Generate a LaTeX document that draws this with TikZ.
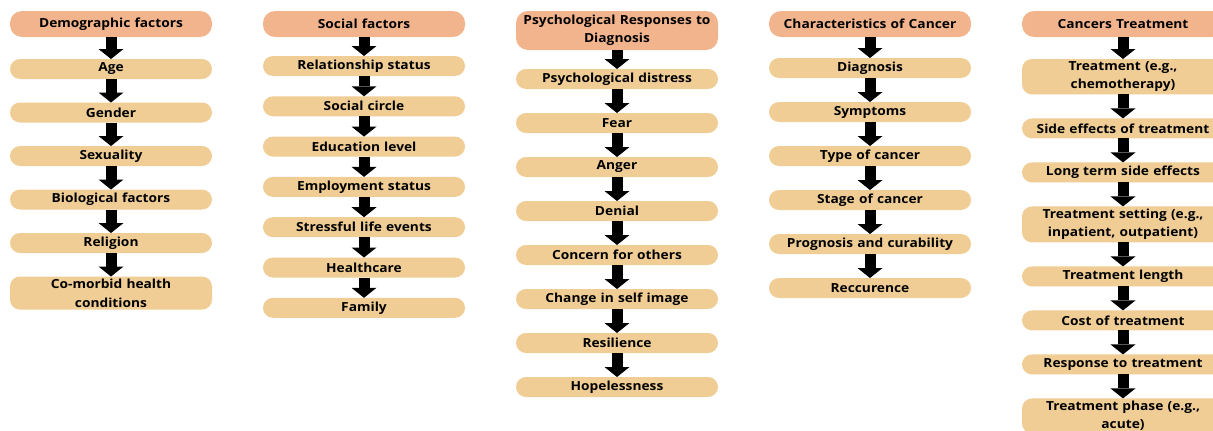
\documentclass[tikz,border=0pt]{standalone}
\usepackage{fontspec}
\setmainfont{Open Sans}[FakeStretch=1.1]
\usepackage{tikz}
\usetikzlibrary{positioning, arrows.meta}

\definecolor{headorange}{HTML}{F2B48C}
\definecolor{itembeige}{HTML}{EFCD95}

\begin{document}
\begin{tikzpicture}[x=1pt, y=-1pt, >={Triangle[width=25pt, length=10pt, line width=0pt]}, node distance=24pt]
    \tikzstyle{head} = [fill=headorange, rounded corners=12pt, outer sep=0pt, text width=196pt, align=center, inner xsep=3pt, inner ysep=4pt, minimum height=26pt, font=\fontsize{12.5}{18.5}\selectfont\bfseries]
    \tikzstyle{item} = [fill=itembeige, rounded corners=10pt, outer sep=0pt, text width=196pt, align=center, inner xsep=3pt, inner ysep=2.5pt, minimum height=20pt, font=\fontsize{12.5}{18.5}\selectfont\bfseries]
    \tikzstyle{flow} = [->, line width=11pt]

    \useasboundingbox (0,0) rectangle (1213,431);

    % demographic
    \begin{scope}[node distance=23.5pt]
        \path[flow]
            node[head, anchor=north] at (111,11) (dem) {Demographic factors}
            node[item, below=22pt of dem] (age) {Age}
            node[item, below=of age] (gender) {Gender}
            node[item, below=of gender] (sexuality) {Sexuality}
            node[item, below=of sexuality] (bio) {Biological factors}
            node[item, below=of bio] (religion) {Religion}
            node[item, below=of religion] (comorbid) {Co-morbid health\\conditions}

            (dem) edge (age)
            (age) edge (gender)
            (gender) edge (sexuality)
            (sexuality) edge (bio)
            (bio) edge (religion)
            (religion) edge (comorbid)
            ;
    \end{scope}

    % social
    \begin{scope}[node distance=20.3pt]
        \path[flow]
            node[head, right=51pt of dem.north east, anchor=north west] (soc) {Social factors}
            node[item, below=19pt of soc] (relation) {Relationship status}
            node[item, below=of relation] (socialcircle) {Social circle}
            node[item, below=of socialcircle] (edu) {Education level}
            node[item, below=of edu] (employ) {Employment status}
            node[item, below=of employ] (stress) {Stressful life events}
            node[item, below=of stress] (health) {Healthcare}
            node[item, below=of health] (family) {Family}

            (soc) edge (relation)
            (relation) edge (socialcircle)
            (socialcircle) edge (edu)
            (edu) edge (employ)
            (employ) edge (stress)
            (stress) edge (health)
            (health) edge (family)
            ;
    \end{scope}

    % psychological
    \begin{scope}[node distance=24pt]
        \path[flow]
            node[head, right=51pt of soc.north east, anchor=north west] (psy) {Psychological Responses to\\Diagnosis}
            node[item, below=19pt of psy] (distress) {Psychological distress}
            node[item, below=of distress] (fear) {Fear}
            node[item, below=of fear] (anger) {Anger}
            node[item, below=of anger] (denial) {Denial}
            node[item, below=of denial] (concern) {Concern for others}
            node[item, below=of concern] (selfimage) {Change in self image}
            node[item, below=of selfimage] (resilience) {Resilience}
            node[item, below=of resilience] (hopeless) {Hopelessness}

            (psy) edge (distress)
            (distress) edge (fear)
            (fear) edge (anger)
            (anger) edge (denial)
            (denial) edge (concern)
            (concern) edge (selfimage)
            (selfimage) edge (resilience)
            (resilience) edge (hopeless)
            ;
    \end{scope}

    % cancer
    \begin{scope}[node distance=24pt]
        \path[flow]
            node[head, right=51pt of psy.north east, anchor=north west] (char) {Characteristics of Cancer}
            node[item, below=21pt of char] (diagnosis) {Diagnosis}
            node[item, below=of diagnosis] (symptoms) {Symptoms}
            node[item, below=of symptoms] (type) {Type of cancer}
            node[item, below=of type] (stage) {Stage of cancer}
            node[item, below=of stage] (prognosis) {Prognosis and curability}
            node[item, below=of prognosis] (recur) {Reccurence}

            (char) edge (diagnosis)
            (diagnosis) edge (symptoms)
            (symptoms) edge (type)
            (type) edge (stage)
            (stage) edge (prognosis)
            (prognosis) edge (recur)
            ;
    \end{scope}

    % treatment
    \begin{scope}[node distance=24pt]
        \path[flow]
            node[head, right=51pt of char.north east, anchor=north west] (treat) {Cancers Treatment}
            node[item, below=22pt of treat] (chemo) {Treatment (e.g.,\\chemotherapy)}
            node[item, below=of chemo] (sideeff) {Side effects of treatment}
            node[item, below=of sideeff] (longterm) {Long term side effects}
            node[item, below=of longterm] (setting) {Treatment setting (e.g.,\\inpatient, outpatient)}
            node[item, below=of setting] (tlength) {Treatment length}
            node[item, below=of tlength] (cost) {Cost of treatment}
            node[item, below=of cost] (response) {Response to treatment}
            node[item, below=of response] (phase) {Treatment phase (e.g.,\\acute)}

            (treat) edge (chemo)
            (chemo) edge (sideeff)
            (sideeff) edge (longterm)
            (longterm) edge (setting)
            (setting) edge (tlength)
            (tlength) edge (cost)
            (cost) edge (response)
            (response) edge (phase)
            ;
    \end{scope}
\end{tikzpicture}
\end{document}
